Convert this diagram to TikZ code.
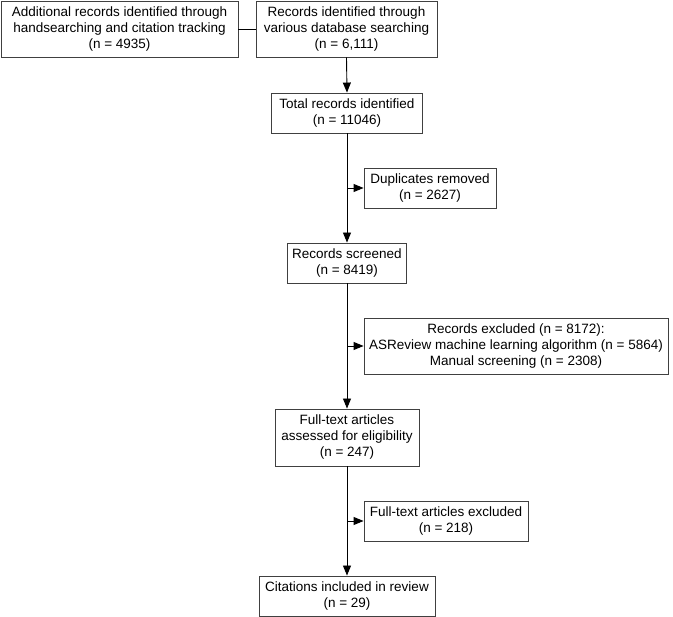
\documentclass[tikz,border=0pt]{standalone}
\usepackage{fontspec}
\setmainfont{Liberation Sans}
\usetikzlibrary{arrows.meta}
\begin{document}
\begin{tikzpicture}[x=1pt,y=1pt,
  box/.style={draw=black!75, line width=0.9pt, align=center, inner sep=0pt,
    font=\fontsize{13.5}{16}\selectfont},
  flow/.style={draw=black, line width=0.9pt, -{Triangle[length=10pt,width=8pt]}},
  link/.style={draw=black, line width=0.9pt}]
\useasboundingbox (0,0) rectangle (673,-617);
\node[box, minimum width=237, minimum height=56] (add) at (119.5,-29) {Additional records identified through\\handsearching and citation tracking\\(n = 4935)};
\node[box, minimum width=181, minimum height=56] (db) at (346.5,-29) {Records identified through\\various database searching\\(n = 6,111)};
\node[box, minimum width=151, minimum height=40] (total) at (347,-113) {Total records identified\\(n = 11046)};
\node[box, minimum width=132, minimum height=40] (dup) at (430,-188) {Duplicates removed\\(n = 2627)};
\node[box, minimum width=119, minimum height=40] (scr) at (347,-263) {Records screened\\(n = 8419)};
\node[box, minimum width=304, minimum height=56] (exc) at (516,-346) {Records excluded (n = 8172):\\ASReview machine learning algorithm (n = 5864)\\Manual screening (n = 2308)};
\node[box, minimum width=144, minimum height=57] (ft) at (347,-437.5) {Full-text articles\\assessed for eligibility\\(n = 247)};
\node[box, minimum width=164, minimum height=40] (ftx) at (446,-521) {Full-text articles excluded\\(n = 218)};
\node[box, minimum width=176, minimum height=40] (cit) at (347,-596) {Citations included in review\\(n = 29)};
\coordinate (j1) at (total.south |- dup.west);
\coordinate (j2) at (scr.south |- exc.west);
\coordinate (j3) at (ft.south |- ftx.west);
\draw[link] (add.east) -- (db.west);
\draw[flow] (db.south) -- (total.north);
\draw[flow] (total.south) -- (scr.north);
\draw[flow] (j1) -- (dup.west);
\draw[flow] (scr.south) -- (ft.north);
\draw[flow] (j2) -- (exc.west);
\draw[flow] (ft.south) -- (cit.north);
\draw[flow] (j3) -- (ftx.west);
\end{tikzpicture}
\end{document}
